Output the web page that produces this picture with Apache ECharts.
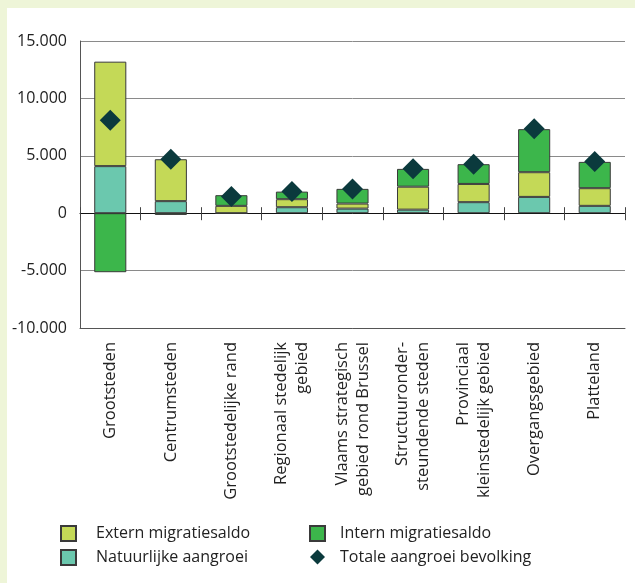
<!DOCTYPE html>
<html><head><meta charset="utf-8">
<script src="https://cdn.jsdelivr.net/npm/echarts@6/dist/echarts.min.js"></script>
<style>
html,body{margin:0;padding:0;background:#eef5d8;}
#frame{position:absolute;left:7px;top:8px;right:0;bottom:0;background:#fff;}
#chart{position:absolute;left:0;top:0;width:635px;height:583px;}
</style>
</head><body><div id="frame"></div><div id="chart"></div>
<script>
var categories = ['Grootsteden','Centrumsteden','Grootstedelijke rand','Regionaal stedelijk\ngebied','Vlaams strategisch\ngebied rond Brussel','Structuuronder-\nsteundende steden','Provinciaal\nkleinstedelijk gebied','Overgangsgebied','Platteland'];
var natuurlijke = [4100, 1050, 0, 520, 400, 310, 960, 1420, 640];
var extern = [9100, 3650, 640, 700, 440, 2000, 1590, 2150, 1540];
var intern = [-5140, -150, 930, 660, 1280, 1550, 1720, 3750, 2290];
var totaal = [8100, 4700, 1450, 1880, 2100, 3880, 4270, 7350, 4500];
var yTicks = {min: -10000, max: 15000, interval: 5000};

var FONT = 'Open Sans';
var chart = echarts.init(document.getElementById('chart'), null, {renderer: 'canvas'});
function fmt(v){ var s = Math.abs(v).toString().replace(/\B(?=(\d{3})+(?!\d))/g, '.'); return (v < 0 ? '-' : '') + s; }
var barBorder = {borderColor: '#3a3a3a', borderWidth: 1};
chart.setOption({
  backgroundColor: 'transparent',
  textStyle: {fontFamily: FONT},
  grid: {left: 80, right: 10, top: 41, bottom: 255},
  xAxis: [
    {type: 'category', data: categories, position: 'bottom',
     axisLine: {onZero: false, lineStyle: {color: '#555', width: 1}},
     axisTick: {show: false},
     axisLabel: {rotate: 90, margin: 14, fontSize: 16.5, color: '#222', fontFamily: FONT, lineHeight: 21, interval: 0}},
    {type: 'category', data: categories, position: 'bottom',
     axisLine: {onZero: true, onZeroAxisIndex: 0, lineStyle: {color: '#111', width: 1}},
     axisTick: {show: true, interval: 0, length: 7, lineStyle: {color: '#444', width: 1}},
     axisLabel: {show: false, interval: 0}},
    {type: 'category', data: categories, position: 'top',
     axisLine: {show: false, onZero: true, onZeroAxisIndex: 0},
     axisTick: {show: true, interval: 0, length: 6, lineStyle: {color: '#444', width: 1}},
     axisLabel: {show: false, interval: 0}}
  ],
  yAxis: {type: 'value', min: yTicks.min, max: yTicks.max, interval: yTicks.interval,
    axisLine: {show: true, lineStyle: {color: '#555'}},
    axisTick: {show: false},
    splitLine: {lineStyle: {color: '#8a8a8a', width: 1}},
    axisLabel: {formatter: fmt, fontSize: 16, color: '#222', margin: 13, fontFamily: FONT}},
  legend: [
    {left: 60, top: 525, orient: 'vertical', padding: 0, itemWidth: 15, itemHeight: 15, itemGap: 7, icon: 'rect',
     data: ['Extern migratiesaldo', 'Natuurlijke aangroei'],
     textStyle: {fontSize: 16, color: '#222', fontFamily: FONT, padding: [0, 0, 0, 15]}},
    {left: 309, top: 525, orient: 'vertical', padding: 0, itemWidth: 15, itemHeight: 15, itemGap: 7,
     data: [{name: 'Intern migratiesaldo', icon: 'rect'}, {name: 'Totale aangroei bevolking', icon: 'diamond'}],
     textStyle: {fontSize: 16, color: '#222', fontFamily: FONT, padding: [0, 0, 0, 10]}}
  ],
  series: [
    {name: 'Natuurlijke aangroei', type: 'bar', stack: 's', data: natuurlijke, barWidth: '53%',
     itemStyle: Object.assign({color: '#6bc8ae'}, barBorder)},
    {name: 'Extern migratiesaldo', type: 'bar', stack: 's', data: extern, barWidth: '53%',
     itemStyle: Object.assign({color: '#c4d957'}, barBorder)},
    {name: 'Intern migratiesaldo', type: 'bar', stack: 's', data: intern, barWidth: '53%',
     itemStyle: Object.assign({color: '#3cb64b'}, barBorder)},
    {name: 'Totale aangroei bevolking', type: 'scatter', data: totaal, symbol: 'diamond', symbolSize: [21, 21],
     itemStyle: {color: '#0b3a3d', opacity: 1}, z: 5}
  ]
});
</script>
</body></html>
